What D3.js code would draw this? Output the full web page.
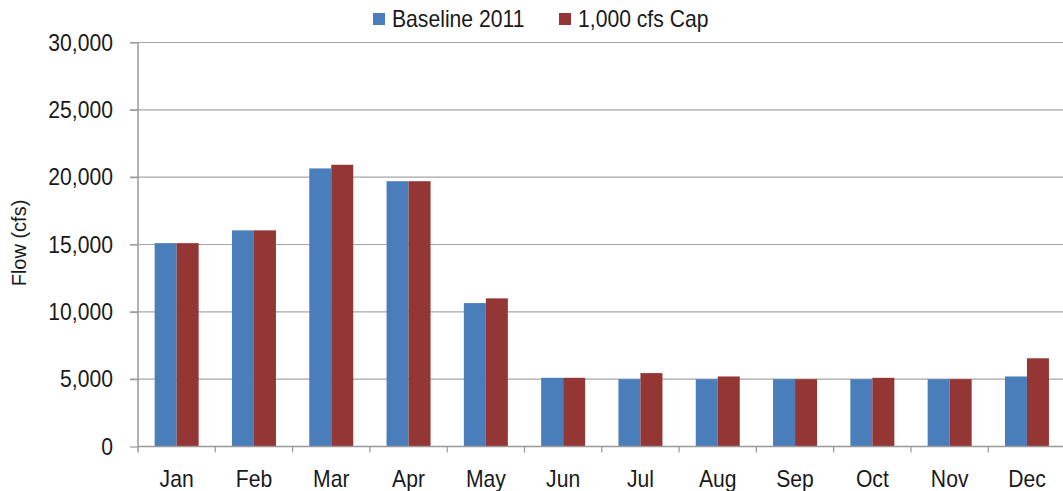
<!DOCTYPE html>
<html>
<head>
<meta charset="utf-8">
<script src="https://cdn.jsdelivr.net/npm/d3@7"></script>
<style>
body { margin: 0; background: #fff; }
text { font-family: "Liberation Sans", Arial, sans-serif; fill: #1a1a1a; }
</style>
</head>
<body>
<div id="chart"></div>
<script>
// data
const months = ["Jan","Feb","Mar","Apr","May","Jun","Jul","Aug","Sep","Oct","Nov","Dec"];
const seriesNames = ["Baseline 2011", "1,000 cfs Cap"];
const baseline = [15100, 16050, 20650, 19700, 10650, 5100, 5000, 5000, 5000, 5000, 5000, 5200];
const cap      = [15100, 16050, 20920, 19700, 11000, 5100, 5450, 5200, 5000, 5100, 5000, 6550];
const yTicks = [0, 5000, 10000, 15000, 20000, 25000, 30000];
const colors = ["#4a7ebb", "#943634"];

const W = 1063, H = 491;
const plotLeft = 138, plotTop = 42.5, plotBottom = 446.5, step = 77.3;
const sx = 0.92; // labels look a bit narrow

const svg = d3.select("#chart").append("svg")
  .attr("width", W).attr("height", H);

const x0 = d3.scaleBand().domain(months).range([plotLeft, plotLeft + step * months.length]);
const x1 = d3.scaleBand().domain(seriesNames).range([0, x0.bandwidth()])
  .paddingInner(0).paddingOuter(0.757);
const y = d3.scaleLinear().domain([0, 30000]).range([plotBottom, plotTop]);

// gridlines
svg.append("g").selectAll("line")
  .data(yTicks.filter(d => d > 0))
  .enter().append("line")
  .attr("x1", plotLeft - 8).attr("x2", W)
  .attr("y1", d => y(d)).attr("y2", d => y(d))
  .attr("stroke", "#a6a6a6").attr("stroke-width", 1.2);

// bars
const rows = months.map((m, i) => ({ month: m, vals: [baseline[i], cap[i]] }));
const grp = svg.append("g").selectAll("g")
  .data(rows).enter().append("g")
  .attr("transform", d => `translate(${x0(d.month)},0)`);
grp.selectAll("rect")
  .data(d => d.vals.map((v, j) => ({ key: seriesNames[j], v: v, j: j })))
  .enter().append("rect")
  .attr("x", d => x1(d.key))
  .attr("width", x1.bandwidth())
  .attr("y", d => y(d.v))
  .attr("height", d => y(0) - y(d.v))
  .attr("fill", d => colors[d.j]);

// y axis
const yAxis = d3.axisLeft(y).tickValues(yTicks).tickSize(8).tickFormat(() => "");
const ya = svg.append("g").attr("transform", `translate(${plotLeft},0)`).call(yAxis);
ya.select(".domain").remove();
ya.selectAll(".tick line").attr("stroke", "#999").attr("stroke-width", 1.2);
svg.append("line")
  .attr("x1", plotLeft).attr("x2", plotLeft).attr("y1", plotTop).attr("y2", plotBottom + 6)
  .attr("stroke", "#999").attr("stroke-width", 1.5);

svg.append("g").selectAll("text")
  .data(yTicks).enter().append("text")
  .attr("transform", d => `translate(113,${y(d) + 8}) scale(${sx},1)`)
  .attr("text-anchor", "end")
  .style("font-size", "23px")
  .text(d => d3.format(",")(d));

// x axis
svg.append("line")
  .attr("x1", plotLeft).attr("x2", W).attr("y1", plotBottom).attr("y2", plotBottom)
  .attr("stroke", "#999").attr("stroke-width", 1.5);
svg.append("g").selectAll("line")
  .data(months.slice(1)).enter().append("line")
  .attr("x1", d => x0(d)).attr("x2", d => x0(d))
  .attr("y1", plotBottom).attr("y2", plotBottom + 6)
  .attr("stroke", "#999").attr("stroke-width", 1.2);

svg.append("g").selectAll("text")
  .data(months).enter().append("text")
  .attr("transform", d => `translate(${x0(d) + x0.bandwidth() / 2},487) scale(${sx},1)`)
  .attr("text-anchor", "middle")
  .style("font-size", "23px")
  .text(d => d);

// y title
svg.append("text")
  .attr("transform", "translate(26,243) rotate(-90)")
  .attr("text-anchor", "middle")
  .style("font-size", "20px")
  .text("Flow (cfs)");

// legend
const legendX = [373, 559];
const lg = svg.append("g").selectAll("g")
  .data(seriesNames).enter().append("g")
  .attr("transform", (d, i) => `translate(${legendX[i]},0)`);
lg.append("rect")
  .attr("x", 0).attr("y", 13).attr("width", 12).attr("height", 12)
  .attr("fill", (d, i) => colors[i]);
lg.append("text")
  .attr("transform", `translate(19,27) scale(${sx},1)`)
  .style("font-size", "23px")
  .text(d => d);
</script>
</body>
</html>
